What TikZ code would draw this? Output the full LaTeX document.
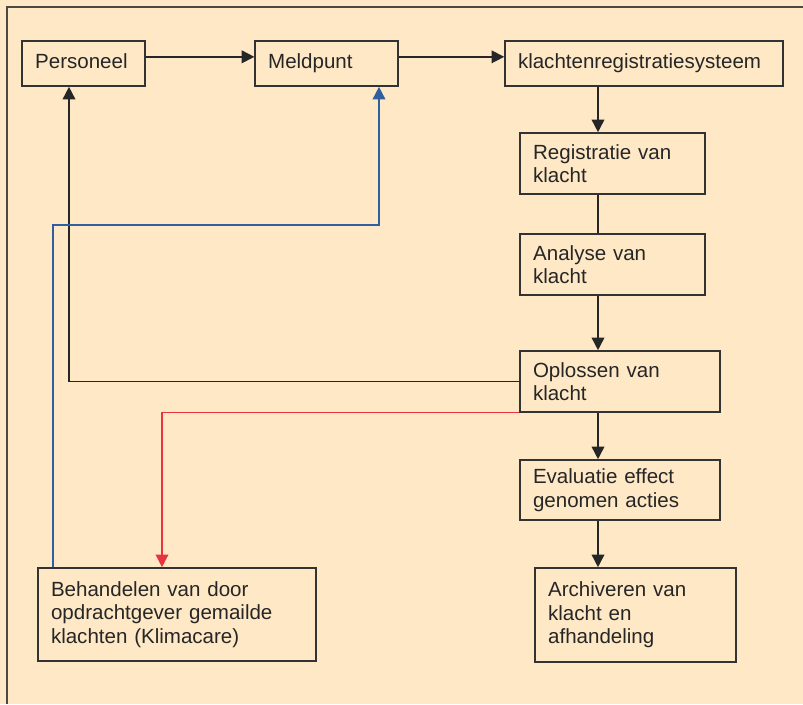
\documentclass[tikz,border=0pt]{standalone}
\usepackage{fontspec}
\setmainfont{Liberation Sans}
\usetikzlibrary{positioning, arrows.meta}
\definecolor{paper}{HTML}{FEE8C6}
\definecolor{frameGray}{HTML}{4A4A42}
\definecolor{lineBlue}{HTML}{2F5F9E}
\definecolor{lineRed}{HTML}{E8343E}
\tikzset{
	stepBox/.style={draw=black!80, line width=1.2pt, align=left, inner xsep=9.75pt,
		font=\fontsize{15.4}{17.6}\selectfont, text=black!85},
	flow/.style={line width=1.2pt, draw=black!85, -{Triangle[length=9.5pt, width=9.5pt]}},
	flowPlain/.style={line width=1.2pt, draw=black!85},
	flowBlue/.style={line width=1.2pt, draw=lineBlue, -{Triangle[length=9.5pt, width=9.5pt]}},
	flowRed/.style={line width=1pt, draw=lineRed, -{Triangle[length=9.5pt, width=9.5pt]}}
}

\begin{document}
\begin{tikzpicture}[x=0.75pt, y=-0.75pt]
\fill[paper] (0,0) rectangle (803,704);
\useasboundingbox (0,0) rectangle (803,704);
\draw[frameGray, line width=1.2pt] (803,7) -- (7,7) -- (7,704);

% top row
\node[stepBox, text width=72.5pt, minimum height=33.75pt] (perso) at (83.5,63.5) {Personeel\vphantom{p}};
\node[stepBox, text width=87.5pt, minimum height=33.75pt] (meld) at (326.5,63.5) {Meldpunt};
\node[stepBox, text width=189pt, minimum height=33.75pt] (klacht) at (644,63.5) {klachtenregistratiesysteem};

% right column
\node[stepBox, text width=119pt, minimum height=45.75pt] (regis) at (612.5,163.5) {Registratie van\\klacht};
\node[stepBox, text width=119pt, minimum height=45.75pt] (analy) at (612.5,264.5) {Analyse van\\klacht};
\node[stepBox, text width=130.5pt, minimum height=45.75pt] (oplos) at (620,381.5) {Oplossen van\\klacht};
\node[stepBox, text width=130.5pt, minimum height=45pt] (evalu) at (620,490) {Evaluatie effect\\genomen acties};
\node[stepBox, text width=131pt, minimum height=70.5pt] (archi) at (635.5,615) {Archiveren van\\klacht en\\afhandeling};

% left bottom
\node[stepBox, text width=189pt, minimum height=69.75pt] (behan) at (177,614.5) {Behandelen van door\\opdrachtgever gemailde\\klachten (Klimacare)};

\coordinate (spine) at (598,0);
\coordinate (backX) at (69,0);
\coordinate (b1) at (53,225);
\coordinate (b2) at (379,225);
\coordinate (redX) at (162,0);

\draw[flow] ([yshift=5pt]perso.east) -- ([yshift=5pt]meld.west);
\draw[flow] ([yshift=5pt]meld.east) -- ([yshift=5pt]klacht.west);
\draw[flow] (klacht.south -| spine) -- (regis.north -| spine);
\draw[flowPlain] (regis.south -| spine) -- (analy.north -| spine);
\draw[flow] (analy.south -| spine) -- (oplos.north -| spine);
\draw[flow] (oplos.south -| spine) -- (evalu.north -| spine);
\draw[flow] (evalu.south -| spine) -- (archi.north -| spine);

\draw[flow] (oplos.west) -| (backX |- perso.south);
\draw[flowBlue] (behan.north -| b1) -- (b1) -- (b2) -- (b2 |- meld.south);
\draw[flowRed] (oplos.south west) -| (redX |- behan.north);
\end{tikzpicture}
\end{document}
